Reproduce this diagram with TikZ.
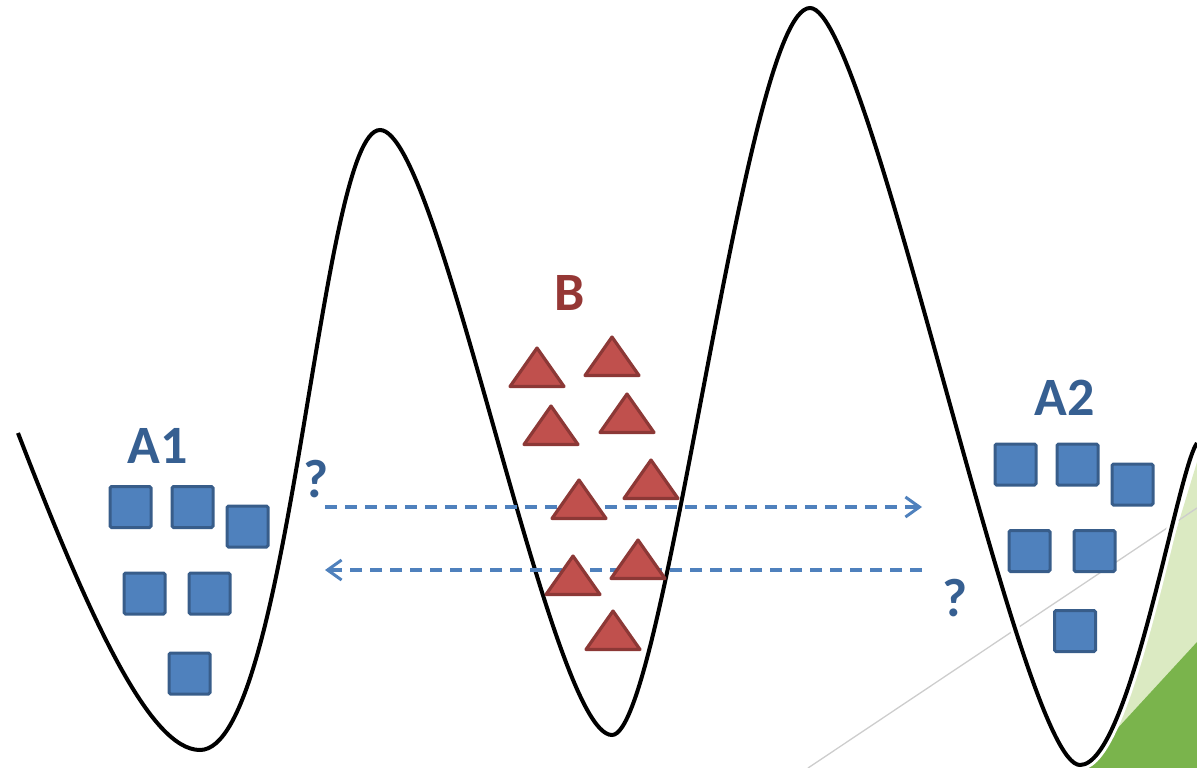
\documentclass[tikz,border=0pt]{standalone}
\usepackage{fontspec}
\setmainfont{Carlito}
\usetikzlibrary{arrows.meta}
\definecolor{sqfill}{RGB}{79,129,189}
\definecolor{sqline}{RGB}{56,93,138}
\definecolor{trifill}{RGB}{192,80,77}
\definecolor{triline}{RGB}{140,56,54}
\definecolor{lblblue}{RGB}{54,95,145}
\definecolor{lblred}{RGB}{149,55,53}
\definecolor{lightgreen}{RGB}{219,234,194}
\definecolor{darkgreen}{RGB}{122,180,76}
\definecolor{thingray}{RGB}{205,205,205}
\tikzset{
  sq/.style={draw=sqline, fill=sqfill, line width=3pt, minimum size=41pt, inner sep=0pt, rounded corners=1.5pt},
  tri/.style={draw=triline, fill=trifill, line width=3.2pt, line join=round},
  curve/.style={draw=black, line width=4pt, preaction={draw=white, line width=10pt}},
  dasharrow/.style={draw=sqfill, line width=3.3pt, dash pattern=on 12pt off 8pt, -{Straight Barb[length=14pt,width=20pt,line width=3pt]}},
  lblA/.style={text=lblblue, font=\bfseries\fontsize{54}{54}\selectfont, inner sep=0pt, anchor=base},
  lblB/.style={text=lblred, font=\bfseries\fontsize{54}{54}\selectfont, inner sep=0pt, anchor=base}
}
\begin{document}
\begin{tikzpicture}[x=1pt,y=-1pt]
\useasboundingbox (0,0) rectangle (1197,768);
\clip (0,0) rectangle (1197,768);
% decorative corner
\fill[lightgreen] (1104,768) -- (1197,462) -- (1197,768) -- cycle;
\fill[darkgreen] (1081,768) -- (1197,642) -- (1197,768) -- cycle;
\draw[thingray, line width=1.3pt] (808,768) -- (1197,508);
% energy landscape
\draw[curve] (18,433) .. controls (90,620) and (150,750) .. (200,750)
  .. controls (290,750) and (320,130) .. (380,130)
  .. controls (440,130) and (550,735) .. (612,735)
  .. controls (665,735) and (745,8) .. (810,8)
  .. controls (870,8) and (1020,765) .. (1080,765)
  .. controls (1130,765) and (1177,471) .. (1197,443);
% arrows
\coordinate (l1) at (325,507);
\coordinate (r1) at (922,507);
\coordinate (r2) at (922,570);
\coordinate (l2) at (325,570);
\draw[dasharrow] (l1) -- (r1);
\draw[dasharrow] (r2) -- (l2);
% A1 squares
\node[sq] (a1s1) at (130.5,507) {};
\node[sq] (a1s2) at (192.5,507) {};
\node[sq] (a1s3) at (247.5,526.5) {};
\node[sq] (a1s4) at (144.5,593.5) {};
\node[sq] (a1s5) at (209.5,593.5) {};
\node[sq] (a1s6) at (189.5,673.5) {};
% A2 squares
\node[sq] (a2s1) at (1015.5,464.5) {};
\node[sq] (a2s2) at (1077.5,464.5) {};
\node[sq] (a2s3) at (1132.5,484.5) {};
\node[sq] (a2s4) at (1029.5,551) {};
\node[sq] (a2s5) at (1094.5,551) {};
\node[sq] (a2s6) at (1075,631) {};
% B triangles
\foreach \cx/\by in {537/388, 612/377, 551/446, 627/434, 651/500, 579/520, 638/580, 573/596, 613/651}{
  \draw[tri] (\cx-27,\by-1.5) -- (\cx+27,\by-1.5) -- (\cx,\by-40) -- cycle;
}
% labels
\node[lblA] (la1) at (158,463) {A1};
\node[lblA] (la2) at (1065,415) {A2};
\node[lblB] (lb) at (570,310) {B};
\node[lblA] (q1) at (316,497) {?};
\node[lblA] (q2) at (955,616) {?};
\end{tikzpicture}
\end{document}
